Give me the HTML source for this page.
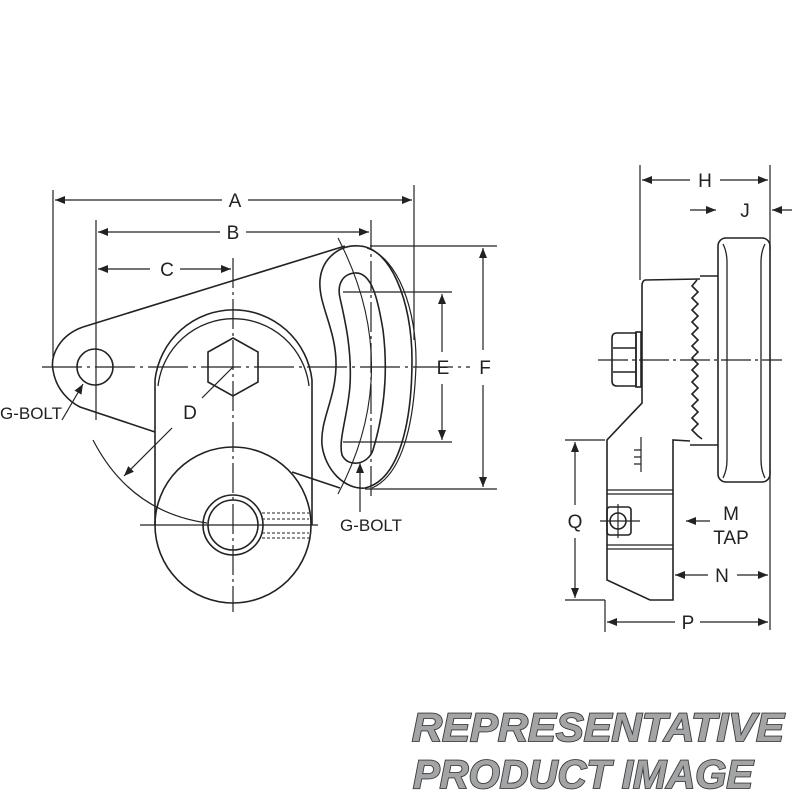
<!DOCTYPE html>
<html><head><meta charset="utf-8"><style>html,body{margin:0;padding:0;background:#fff}svg{display:block}</style></head>
<body>
<svg width="800" height="800" viewBox="0 0 800 800" xmlns="http://www.w3.org/2000/svg">
<defs>
<marker id="ar" markerWidth="10" markerHeight="8" refX="10" refY="4" orient="auto" markerUnits="userSpaceOnUse"><path d="M0,0 L10,4 L0,8 Z" fill="#222" stroke="none"/></marker>
</defs>
<g fill="none" stroke="#222" stroke-width="1.6" font-family="Liberation Sans, sans-serif">
<g stroke-width="1.2">
<line x1="53" y1="190" x2="53" y2="357"/>
<line x1="414" y1="185" x2="414" y2="340"/>
<line x1="96" y1="220" x2="96" y2="420"/>
<line x1="371" y1="220" x2="371" y2="500" stroke-dasharray="30,4,3,4"/>
<line x1="233" y1="258" x2="233" y2="612" stroke-dasharray="30,4,3,4"/>
<line x1="42" y1="367" x2="470" y2="367" stroke-dasharray="40,5,3,5"/>
<line x1="140" y1="525" x2="318" y2="525"/>
</g>
<g stroke-width="1.2">
<path d="M222,200 H55" marker-end="url(#ar)"/><path d="M248,200 H412" marker-end="url(#ar)"/>
<path d="M220,232 H98" marker-end="url(#ar)"/><path d="M246,232 H369" marker-end="url(#ar)"/>
<path d="M150,269 H98" marker-end="url(#ar)"/><path d="M180,269 H231" marker-end="url(#ar)"/>
<path d="M343,292 H452 M343,442 H452 M370,246 H497 M365,489 H497"/>
<path d="M442,352 V294" marker-end="url(#ar)"/><path d="M442,384 V440" marker-end="url(#ar)"/>
<path d="M483,350 V248" marker-end="url(#ar)"/><path d="M483,385 V487" marker-end="url(#ar)"/>
<path d="M172,428 L124,476" marker-end="url(#ar)"/><path d="M233,367 L202,398" />
<path d="M93,440 Q130,512 207,523"/>
<path d="M62,420 L83,384" marker-end="url(#ar)"/>
<path d="M360,512 V463" marker-end="url(#ar)"/>
</g>
<path d="M83,327 L345,246"/>
<path d="M83,327 C60,335 50,355 53,370 C56,390 70,402 80,407 L155,432"/>
<circle cx="95" cy="367" r="18"/>
<path d="M155,380 A79,79 0 0 1 312,380"/>
<path d="M158,386 A76,76 0 0 1 309,386" stroke-width="1.3"/>
<line x1="155" y1="380" x2="155" y2="525"/><line x1="312" y1="380" x2="312" y2="525"/>
<circle cx="233" cy="525" r="78"/>
<circle cx="233" cy="525" r="30"/><circle cx="233" cy="525" r="25"/>
<path d="M262,513 H309 M262,519 H309 M262,533 H309 M262,538 H309" stroke-width="1" stroke-dasharray="3,2"/>
<polygon points="233,338 258,352 258,382 233,396 208,382 208,352"/>
<path d="M292,472 L340,488"/>
<path d="M360,246 C390,248 412,300 412,360 C412,420 400,480 365,488 C345,490 325,470 322,445 C320,420 335,400 336,367 C337,330 318,305 320,280 C322,258 340,244 360,246 Z"/>
<path d="M367,248 C398,258 417,310 416,365 C414,425 402,475 372,488" stroke-width="1.2"/>
<path d="M355,273 C372,272 378,300 383,330 C388,370 385,410 373,450 C368,465 348,468 342,455 C338,440 348,415 350,385 C352,350 345,320 340,298 C337,285 342,274 355,273 Z"/>
<path d="M338,238 Q405,367 338,494" stroke-width="1.1"/>
<g stroke-width="1.2">
<path d="M640,165 V280 M770,165 V250 M770,470 V630 M605,600 V632 M565,440 H605 M565,600 H605"/>
<path d="M690,180 H642" marker-end="url(#ar)"/><path d="M720,180 H768" marker-end="url(#ar)"/>
<path d="M690,210 H716" marker-end="url(#ar)"/><path d="M792,210 H772" marker-end="url(#ar)"/>
<path d="M575,505 V442" marker-end="url(#ar)"/><path d="M575,538 V598" marker-end="url(#ar)"/>
<path d="M708,575 H675" marker-end="url(#ar)"/><path d="M737,575 H768" marker-end="url(#ar)"/>
<path d="M675,622 H607" marker-end="url(#ar)"/><path d="M700,622 H768" marker-end="url(#ar)"/>
<path d="M710,521 H686" marker-end="url(#ar)"/>
<line x1="598" y1="360" x2="782" y2="360" stroke-dasharray="30,4,3,4"/>
<line x1="600" y1="521" x2="640" y2="521"/><line x1="618" y1="504" x2="618" y2="538"/>
</g>
<rect x="718" y="238" width="52" height="244" rx="8" fill="none"/>
<path d="M723,244 Q727,252 727,262 L727,460 Q727,470 723,478 M765,244 Q761,252 761,262 L761,460 Q761,470 765,478" stroke-width="1.3" fill="none"/>
<path d="M700,276 L718,276 M690,445 L718,445"/>
<path d="M700,279 L645,280 Q642,281 642,286 L642,403 L607,440 L607,580 L650,600 L673,600 L673,440 L690,441" fill="none"/>
<path d="M697,280 l-5,6 l6,6 l-6,6 l6,6 l-6,6 l6,6 l-6,6 l6,6 l-6,6 l6,6 l-6,6 l6,6 l-6,6 l6,6 l-6,6 l6,6 l-6,6 l6,6 l-6,6 l6,6 l-6,6 l6,6 l-6,6 l6,6 l-6,6 l6,6 l4,3" fill="none"/>
<path d="M607,490 H673 M607,494 H673 M607,545 H673 M607,549 H673" stroke-width="1.3"/>
<rect x="607" y="507" width="24" height="28" rx="3"/>
<circle cx="618" cy="521" r="8"/>
<path d="M641,437 V472 M641,450 H634 M641,457 H634 M641,464 H634" stroke-width="1.2"/>
<path d="M612,338 Q612,333 617,333 L636,333 L636,386 L617,386 Q612,386 612,381 Z"/>
<path d="M613,348 H636 M613,372 H636"/>
<rect x="636" y="332" width="5" height="55"/>
</g>
<g font-family="Liberation Sans, sans-serif" font-size="19" fill="#222" text-anchor="middle">
<text x="235" y="207">A</text><text x="233" y="239">B</text><text x="167" y="276">C</text>
<text x="443" y="374">E</text><text x="485" y="374">F</text><text x="190" y="419">D</text>
<text x="705" y="187">H</text><text x="745" y="217">J</text><text x="575" y="528">Q</text>
<text x="722" y="582">N</text><text x="688" y="629">P</text>
<text x="731" y="520">M</text><text x="731" y="544">TAP</text>
<text x="31" y="419" font-size="17">G-BOLT</text><text x="371" y="531" font-size="17">G-BOLT</text>
</g>
<g font-family="Liberation Sans, sans-serif" font-weight="bold" font-style="italic" font-size="40" fill="#a2a4a6" stroke="#3a3a3a" stroke-width="1.8" paint-order="stroke">
<text x="412" y="741" textLength="372" lengthAdjust="spacingAndGlyphs">REPRESENTATIVE</text>
<text x="413" y="788" textLength="340" lengthAdjust="spacingAndGlyphs">PRODUCT  IMAGE</text>
</g>
</svg>
</body></html>
